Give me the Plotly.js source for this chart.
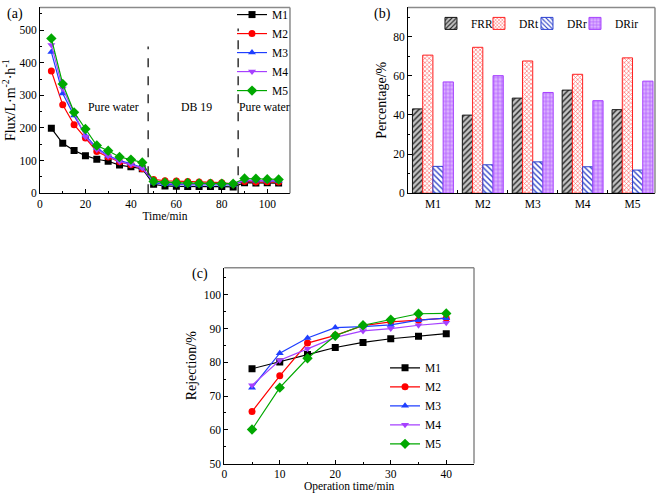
<!DOCTYPE html>
<html><head><meta charset="utf-8">
<script src="https://cdn.plot.ly/plotly-3.0.1.min.js"></script>
<style>html,body{margin:0;padding:0;background:#fff}#chart{width:661px;height:494px}</style>
</head><body><div id="chart"></div>
<script>
// ---------- data ----------
const seriesNames = ['M1','M2','M3','M4','M5'];
const seriesColors = ['#000000','#ff0000','#1f3fff','#a640ff','#00a800'];
const seriesSymbols = ['square','circle','triangle-up','triangle-down','diamond'];

// (a) flux vs time
const fluxTime = [5,10,15,20,25,30,35,40,45,50,55,60,65,70,75,80,85,90,95,100,105];
const fluxM1 = [199,153,131,115,104,98,86,81,75,27,22,21,20,20,20,20,19,32,31,32,31];
const fluxM2 = [375,271,210,169,128,111,96,87,75,42,38,37,36,34,33,32,28,36,34,35,34];
const fluxM3 = [433,306,238,177,139,115,100,91,78,32,27,26,25,25,25,25,25,39,38,38,37];
const fluxM4 = [455,321,246,173,134,113,97,88,77,35,30,29,28,28,28,27,27,40,39,39,38];
const fluxM5 = [475,335,248,197,146,130,111,103,94,36,33,32,31,30,29,29,29,45,44,43,42];
const stageLabels = ['Pure water','DB 19','Pure water'];

// (b) fouling percentages
const barCategories = ['M1','M2','M3','M4','M5'];
const FRR  = [43.1,39.9,48.6,52.7,42.7];
const DRt  = [70.6,74.6,67.6,60.8,69.2];
const DRr  = [13.7,14.5,16.0,13.5,11.8];
const DRir = [56.9,60.1,51.5,47.3,57.3];

// (c) rejection vs operation time
const rejTime = [5,10,15,20,25,30,35,40];
const rejM1 = [78.1,80.1,82.3,84.4,85.9,87.0,87.7,88.5];
const rejM2 = [65.4,76.0,85.7,88.0,90.9,92.0,92.5,93.1];
const rejM3 = [72.5,82.7,87.2,90.3,90.6,91.1,92.5,93.1];
const rejM4 = [73.2,80.6,84.0,87.4,89.3,90.0,91.0,91.7];
const rejM5 = [60.1,72.5,81.2,87.9,91.0,92.6,94.4,94.5];

// ---------- traces ----------
const FONT = 'Liberation Serif, Times New Roman, serif';
const fluxSeries = [fluxM1,fluxM2,fluxM3,fluxM4,fluxM5];
const rejSeries = [rejM1,rejM2,rejM3,rejM4,rejM5];
const traces = [];
fluxSeries.forEach((ys,i)=>{
  traces.push({type:'scatter',mode:'lines+markers',x:fluxTime,y:ys,name:seriesNames[i],
    xaxis:'x',yaxis:'y',legend:'legend',
    line:{color:seriesColors[i],width:1.2},
    marker:{symbol:seriesSymbols[i],color:seriesColors[i],size:i===4?8:7}});
});
const barDefs = [
  {name:'FRR', y:FRR, line:'#111111', bg:'#c4c4c4', fg:'#222222', shape:'/'},
  {name:'DRt', y:DRt, line:'#ff2020', bg:'#ffffff', fg:'#ff5a5a', shape:'x'},
  {name:'DRr', y:DRr, line:'#2a3fd0', bg:'#ffffff', fg:'#3347c8', shape:'\\'},
  {name:'DRir',y:DRir,line:'#a640ff', bg:'#dcb0ff', fg:'#b060ff', shape:'+'}
];
barDefs.forEach((b,k)=>{
  const t = {type:'bar',x:barCategories,y:b.y,name:b.name,xaxis:'x2',yaxis:'y2',legend:'legend2',
    marker:{color:b.bg,line:{color:b.line,width:1},
      pattern:{shape:b.shape,fgcolor:b.fg,bgcolor:b.bg,size:k===1?3:4,solidity:0.35,fillmode:'replace'}}};
  if(k===3) t.legendwidth = 30;
  traces.push(t);
});
rejSeries.forEach((ys,i)=>{
  traces.push({type:'scatter',mode:'lines+markers',x:rejTime,y:ys,name:seriesNames[i],
    xaxis:'x3',yaxis:'y3',legend:'legend3',
    line:{color:seriesColors[i],width:1.2},
    marker:{symbol:seriesSymbols[i],color:seriesColors[i],size:i===4?8:7}});
});

// ---------- layout ----------
const tf = (s)=>({family:FONT,size:s,color:'#000'});
function ax(extra){
  return Object.assign({showline:true,linecolor:'#000',linewidth:1,ticks:'inside',ticklen:4,
    tickcolor:'#000',showgrid:false,zeroline:false,mirror:false,
    tickfont:tf(11.5)},extra);
}
function border(xr,yr){
  return [
    {type:'line',xref:xr+' domain',yref:yr+' domain',x0:0,x1:1,y0:1,y1:1,line:{color:'#8a8a8a',width:1.5}},
    {type:'line',xref:xr+' domain',yref:yr+' domain',x0:1,x1:1,y0:0,y1:1,line:{color:'#8a8a8a',width:1.5}}
  ];
}
const legendBase = {bgcolor:'rgba(0,0,0,0)',borderwidth:0,itemwidth:30,
  font:tf(11.5),xanchor:'left',yanchor:'top',tracegroupgap:0};

const layout = {
  width:661,height:494,margin:{l:0,r:0,t:0,b:0},
  paper_bgcolor:'#fff',plot_bgcolor:'#fff',
  font:tf(12),
  barmode:'group',bargap:0.18,bargroupgap:0,
  xaxis:ax({domain:[0.0605,0.4387],range:[0,110],anchor:'y',dtick:20,
    minor:{ticks:'inside',ticklen:2,dtick:10,tickcolor:'#000'},
    title:{text:'Time/min',standoff:2,font:tf(11.5)}}),
  yaxis:ax({domain:[0.614,0.993],range:[0,570],anchor:'x',dtick:100,
    minor:{ticks:'inside',ticklen:2,dtick:50,tickcolor:'#000'},
    title:{text:'Flux/L·m<sup>-2</sup>·h<sup>-1</sup>',standoff:3,font:tf(14)}}),
  xaxis2:ax({domain:[0.6172,0.9909],type:'category',range:[-0.5,4.45],anchor:'y2',tickson:'boundaries',ticklen:3}),
  yaxis2:ax({domain:[0.614,0.993],range:[0,95],anchor:'x2',dtick:20,
    minor:{ticks:'inside',ticklen:2,dtick:10,tickcolor:'#000'},
    title:{text:'Percentage/%',standoff:3,font:tf(14)}}),
  xaxis3:ax({domain:[0.3393,0.7171],range:[0,45],anchor:'y3',dtick:10,
    minor:{ticks:'inside',ticklen:2,dtick:5,tickcolor:'#000'},
    title:{text:'Operation time/min',standoff:2,font:tf(11.5)}}),
  yaxis3:ax({domain:[0.0621,0.4615],range:[50,108],anchor:'x3',dtick:10,
    minor:{ticks:'inside',ticklen:2,dtick:5,tickcolor:'#000'},
    title:{text:'Rejection/%',standoff:3,font:tf(14)}}),
  legend:Object.assign({},legendBase,{x:0.351,y:1.008}),
  legend2:Object.assign({},legendBase,{x:0.652,y:0.99,orientation:'h',entrywidth:3}),
  legend3:Object.assign({},legendBase,{x:0.5825,y:0.287}),
  shapes:[
    {type:'line',xref:'x',yref:'y',x0:47.6,x1:47.6,y0:0,y1:450,line:{color:'#333',width:1.5,dash:'dash'}},
    {type:'line',xref:'x',yref:'y',x0:87.2,x1:87.2,y0:0,y1:505,line:{color:'#333',width:1.5,dash:'dash'}},
    ...border('x','y'),...border('x2','y2'),...border('x3','y3')
  ],
  annotations:[
    {xref:'x',yref:'y',x:32.5,y:264,text:stageLabels[0],showarrow:false,font:tf(11.8)},
    {xref:'x',yref:'y',x:68.7,y:264,text:stageLabels[1],showarrow:false,font:tf(11.8)},
    {xref:'x',yref:'y',x:99,y:264,text:stageLabels[2],showarrow:false,font:tf(11.8)},
    {xref:'paper',yref:'paper',x:0.008,y:0.98,xanchor:'left',yanchor:'middle',text:'(a)',showarrow:false,font:tf(14)},
    {xref:'paper',yref:'paper',x:0.579,y:0.98,xanchor:'center',yanchor:'middle',text:'(b)',showarrow:false,font:tf(14)},
    {xref:'paper',yref:'paper',x:0.303,y:0.449,xanchor:'center',yanchor:'middle',text:'(c)',showarrow:false,font:tf(14)}
  ]
};
Plotly.newPlot('chart',traces,layout,{staticPlot:true,displayModeBar:false});
</script></body></html>
